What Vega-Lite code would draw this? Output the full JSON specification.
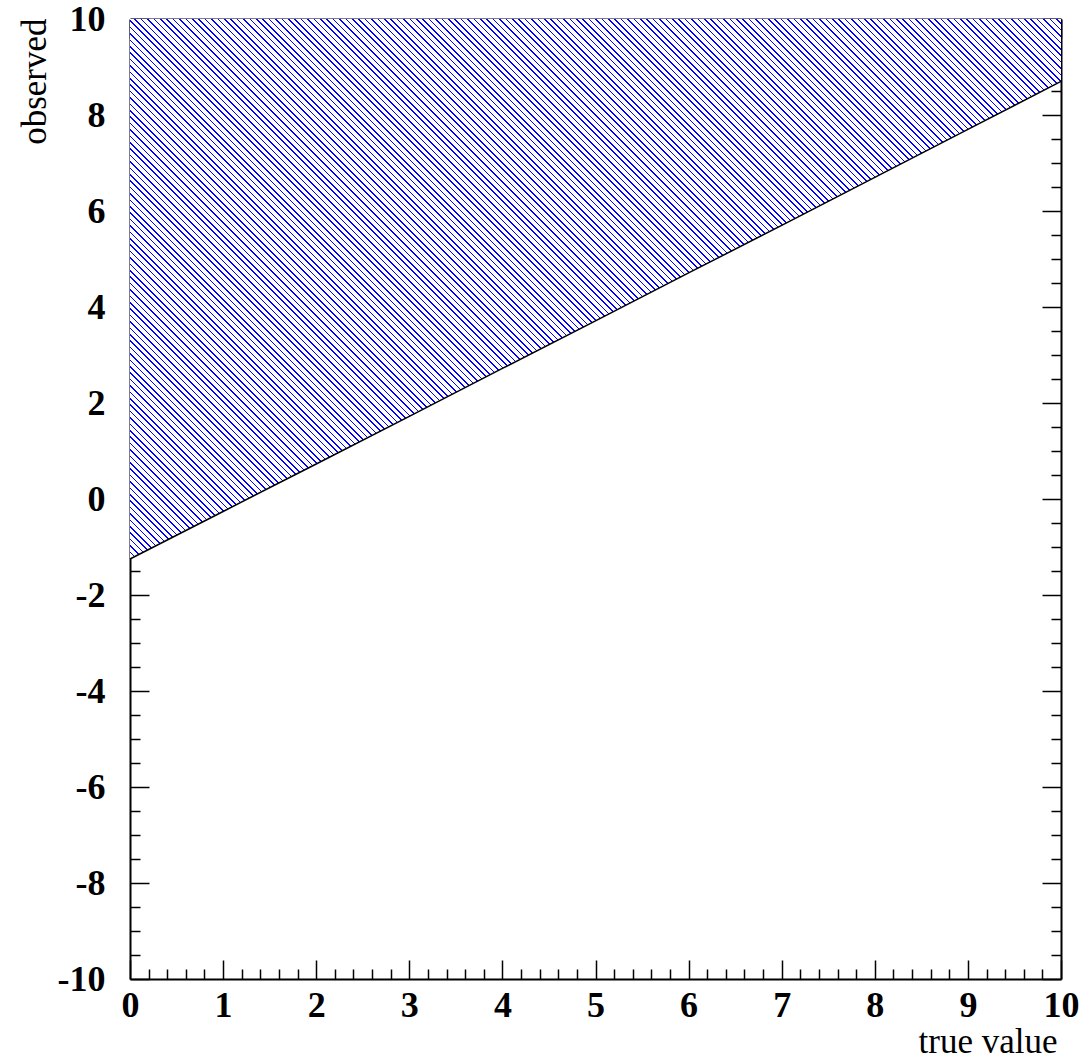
{
"$schema": "https://vega.github.io/schema/vega-lite/v6.json",
"width": 931, "height": 960,
"autosize": {"type": "none"},
"padding": {"left": 130, "top": 19, "right": 30, "bottom": 80},
"background": "white",
"config": {"view": {"stroke": null}, "axis": {"grid": false, "zindex": 1, "tickColor": "#000", "domainColor": "#000", "labelColor": "#000", "titleColor": "#000", "tickWidth": 1.5, "domainWidth": 2}},
"data": {"values": [
{"true_value": 0, "observed": -1.25},
{"true_value": 1, "observed": -0.26},
{"true_value": 2, "observed": 0.73},
{"true_value": 3, "observed": 1.72},
{"true_value": 4, "observed": 2.72},
{"true_value": 5, "observed": 3.71},
{"true_value": 6, "observed": 4.71},
{"true_value": 7, "observed": 5.70},
{"true_value": 8, "observed": 6.70},
{"true_value": 9, "observed": 7.70},
{"true_value": 10, "observed": 8.70}
]},
"layer": [
{"mark": {"type": "area", "stroke": null, "fill": {"gradient": "linear", "x1": 0, "y1": 1, "x2": 1.28595, "y2": 0.25412, "stops": [
{"offset":0,"color":"#00f"},{"offset":0.0009,"color":"#00f"},{"offset":0.0009,"color":"#fff"},{"offset":0.004,"color":"#fff"},{"offset":0.004,"color":"#00f"},{"offset":0.0049,"color":"#00f"},{"offset":0.0049,"color":"#fff"},{"offset":0.008,"color":"#fff"},{"offset":0.008,"color":"#00f"},{"offset":0.0089,"color":"#00f"},{"offset":0.0089,"color":"#fff"},{"offset":0.012,"color":"#fff"},{"offset":0.012,"color":"#00f"},{"offset":0.0129,"color":"#00f"},{"offset":0.0129,"color":"#fff"},{"offset":0.016,"color":"#fff"},{"offset":0.016,"color":"#00f"},{"offset":0.0169,"color":"#00f"},{"offset":0.0169,"color":"#fff"},{"offset":0.02,"color":"#fff"},{"offset":0.02,"color":"#00f"},{"offset":0.0209,"color":"#00f"},{"offset":0.0209,"color":"#fff"},{"offset":0.024,"color":"#fff"},{"offset":0.024,"color":"#00f"},{"offset":0.0249,"color":"#00f"},{"offset":0.0249,"color":"#fff"},{"offset":0.028,"color":"#fff"},{"offset":0.028,"color":"#00f"},{"offset":0.0289,"color":"#00f"},{"offset":0.0289,"color":"#fff"},{"offset":0.032,"color":"#fff"},{"offset":0.032,"color":"#00f"},{"offset":0.0329,"color":"#00f"},{"offset":0.0329,"color":"#fff"},{"offset":0.036,"color":"#fff"},{"offset":0.036,"color":"#00f"},{"offset":0.0369,"color":"#00f"},{"offset":0.0369,"color":"#fff"},{"offset":0.04,"color":"#fff"},{"offset":0.04,"color":"#00f"},{"offset":0.0409,"color":"#00f"},{"offset":0.0409,"color":"#fff"},{"offset":0.044,"color":"#fff"},{"offset":0.044,"color":"#00f"},{"offset":0.0449,"color":"#00f"},{"offset":0.0449,"color":"#fff"},{"offset":0.048,"color":"#fff"},{"offset":0.048,"color":"#00f"},{"offset":0.0489,"color":"#00f"},{"offset":0.0489,"color":"#fff"},{"offset":0.052,"color":"#fff"},{"offset":0.052,"color":"#00f"},{"offset":0.0529,"color":"#00f"},{"offset":0.0529,"color":"#fff"},{"offset":0.056,"color":"#fff"},{"offset":0.056,"color":"#00f"},{"offset":0.0569,"color":"#00f"},{"offset":0.0569,"color":"#fff"},{"offset":0.06,"color":"#fff"},{"offset":0.06,"color":"#00f"},{"offset":0.0609,"color":"#00f"},{"offset":0.0609,"color":"#fff"},{"offset":0.064,"color":"#fff"},{"offset":0.064,"color":"#00f"},{"offset":0.0649,"color":"#00f"},{"offset":0.0649,"color":"#fff"},{"offset":0.068,"color":"#fff"},{"offset":0.068,"color":"#00f"},{"offset":0.0689,"color":"#00f"},{"offset":0.0689,"color":"#fff"},{"offset":0.072,"color":"#fff"},{"offset":0.072,"color":"#00f"},{"offset":0.0729,"color":"#00f"},{"offset":0.0729,"color":"#fff"},{"offset":0.076,"color":"#fff"},{"offset":0.076,"color":"#00f"},{"offset":0.0769,"color":"#00f"},{"offset":0.0769,"color":"#fff"},{"offset":0.08,"color":"#fff"},{"offset":0.08,"color":"#00f"},{"offset":0.0809,"color":"#00f"},{"offset":0.0809,"color":"#fff"},{"offset":0.084,"color":"#fff"},{"offset":0.084,"color":"#00f"},{"offset":0.0849,"color":"#00f"},{"offset":0.0849,"color":"#fff"},{"offset":0.088,"color":"#fff"},{"offset":0.088,"color":"#00f"},{"offset":0.0889,"color":"#00f"},{"offset":0.0889,"color":"#fff"},{"offset":0.092,"color":"#fff"},{"offset":0.092,"color":"#00f"},{"offset":0.0929,"color":"#00f"},{"offset":0.0929,"color":"#fff"},{"offset":0.096,"color":"#fff"},{"offset":0.096,"color":"#00f"},{"offset":0.0969,"color":"#00f"},{"offset":0.0969,"color":"#fff"},{"offset":0.1,"color":"#fff"},
{"offset":0.1,"color":"#00f"},{"offset":0.1009,"color":"#00f"},{"offset":0.1009,"color":"#fff"},{"offset":0.104,"color":"#fff"},{"offset":0.104,"color":"#00f"},{"offset":0.1049,"color":"#00f"},{"offset":0.1049,"color":"#fff"},{"offset":0.108,"color":"#fff"},{"offset":0.108,"color":"#00f"},{"offset":0.1089,"color":"#00f"},{"offset":0.1089,"color":"#fff"},{"offset":0.112,"color":"#fff"},{"offset":0.112,"color":"#00f"},{"offset":0.1129,"color":"#00f"},{"offset":0.1129,"color":"#fff"},{"offset":0.116,"color":"#fff"},{"offset":0.116,"color":"#00f"},{"offset":0.1169,"color":"#00f"},{"offset":0.1169,"color":"#fff"},{"offset":0.12,"color":"#fff"},{"offset":0.12,"color":"#00f"},{"offset":0.1209,"color":"#00f"},{"offset":0.1209,"color":"#fff"},{"offset":0.124,"color":"#fff"},{"offset":0.124,"color":"#00f"},{"offset":0.1249,"color":"#00f"},{"offset":0.1249,"color":"#fff"},{"offset":0.128,"color":"#fff"},{"offset":0.128,"color":"#00f"},{"offset":0.1289,"color":"#00f"},{"offset":0.1289,"color":"#fff"},{"offset":0.132,"color":"#fff"},{"offset":0.132,"color":"#00f"},{"offset":0.1329,"color":"#00f"},{"offset":0.1329,"color":"#fff"},{"offset":0.136,"color":"#fff"},{"offset":0.136,"color":"#00f"},{"offset":0.1369,"color":"#00f"},{"offset":0.1369,"color":"#fff"},{"offset":0.14,"color":"#fff"},{"offset":0.14,"color":"#00f"},{"offset":0.1409,"color":"#00f"},{"offset":0.1409,"color":"#fff"},{"offset":0.144,"color":"#fff"},{"offset":0.144,"color":"#00f"},{"offset":0.1449,"color":"#00f"},{"offset":0.1449,"color":"#fff"},{"offset":0.148,"color":"#fff"},{"offset":0.148,"color":"#00f"},{"offset":0.1489,"color":"#00f"},{"offset":0.1489,"color":"#fff"},{"offset":0.152,"color":"#fff"},{"offset":0.152,"color":"#00f"},{"offset":0.1529,"color":"#00f"},{"offset":0.1529,"color":"#fff"},{"offset":0.156,"color":"#fff"},{"offset":0.156,"color":"#00f"},{"offset":0.1569,"color":"#00f"},{"offset":0.1569,"color":"#fff"},{"offset":0.16,"color":"#fff"},{"offset":0.16,"color":"#00f"},{"offset":0.1609,"color":"#00f"},{"offset":0.1609,"color":"#fff"},{"offset":0.164,"color":"#fff"},{"offset":0.164,"color":"#00f"},{"offset":0.1649,"color":"#00f"},{"offset":0.1649,"color":"#fff"},{"offset":0.168,"color":"#fff"},{"offset":0.168,"color":"#00f"},{"offset":0.1689,"color":"#00f"},{"offset":0.1689,"color":"#fff"},{"offset":0.172,"color":"#fff"},{"offset":0.172,"color":"#00f"},{"offset":0.1729,"color":"#00f"},{"offset":0.1729,"color":"#fff"},{"offset":0.176,"color":"#fff"},{"offset":0.176,"color":"#00f"},{"offset":0.1769,"color":"#00f"},{"offset":0.1769,"color":"#fff"},{"offset":0.18,"color":"#fff"},{"offset":0.18,"color":"#00f"},{"offset":0.1809,"color":"#00f"},{"offset":0.1809,"color":"#fff"},{"offset":0.184,"color":"#fff"},{"offset":0.184,"color":"#00f"},{"offset":0.1849,"color":"#00f"},{"offset":0.1849,"color":"#fff"},{"offset":0.188,"color":"#fff"},{"offset":0.188,"color":"#00f"},{"offset":0.1889,"color":"#00f"},{"offset":0.1889,"color":"#fff"},{"offset":0.192,"color":"#fff"},{"offset":0.192,"color":"#00f"},{"offset":0.1929,"color":"#00f"},{"offset":0.1929,"color":"#fff"},{"offset":0.196,"color":"#fff"},{"offset":0.196,"color":"#00f"},{"offset":0.1969,"color":"#00f"},{"offset":0.1969,"color":"#fff"},{"offset":0.2,"color":"#fff"},
{"offset":0.2,"color":"#00f"},{"offset":0.2009,"color":"#00f"},{"offset":0.2009,"color":"#fff"},{"offset":0.204,"color":"#fff"},{"offset":0.204,"color":"#00f"},{"offset":0.2049,"color":"#00f"},{"offset":0.2049,"color":"#fff"},{"offset":0.208,"color":"#fff"},{"offset":0.208,"color":"#00f"},{"offset":0.2089,"color":"#00f"},{"offset":0.2089,"color":"#fff"},{"offset":0.212,"color":"#fff"},{"offset":0.212,"color":"#00f"},{"offset":0.2129,"color":"#00f"},{"offset":0.2129,"color":"#fff"},{"offset":0.216,"color":"#fff"},{"offset":0.216,"color":"#00f"},{"offset":0.2169,"color":"#00f"},{"offset":0.2169,"color":"#fff"},{"offset":0.22,"color":"#fff"},{"offset":0.22,"color":"#00f"},{"offset":0.2209,"color":"#00f"},{"offset":0.2209,"color":"#fff"},{"offset":0.224,"color":"#fff"},{"offset":0.224,"color":"#00f"},{"offset":0.2249,"color":"#00f"},{"offset":0.2249,"color":"#fff"},{"offset":0.228,"color":"#fff"},{"offset":0.228,"color":"#00f"},{"offset":0.2289,"color":"#00f"},{"offset":0.2289,"color":"#fff"},{"offset":0.232,"color":"#fff"},{"offset":0.232,"color":"#00f"},{"offset":0.2329,"color":"#00f"},{"offset":0.2329,"color":"#fff"},{"offset":0.236,"color":"#fff"},{"offset":0.236,"color":"#00f"},{"offset":0.2369,"color":"#00f"},{"offset":0.2369,"color":"#fff"},{"offset":0.24,"color":"#fff"},{"offset":0.24,"color":"#00f"},{"offset":0.2409,"color":"#00f"},{"offset":0.2409,"color":"#fff"},{"offset":0.244,"color":"#fff"},{"offset":0.244,"color":"#00f"},{"offset":0.2449,"color":"#00f"},{"offset":0.2449,"color":"#fff"},{"offset":0.248,"color":"#fff"},{"offset":0.248,"color":"#00f"},{"offset":0.2489,"color":"#00f"},{"offset":0.2489,"color":"#fff"},{"offset":0.252,"color":"#fff"},{"offset":0.252,"color":"#00f"},{"offset":0.2529,"color":"#00f"},{"offset":0.2529,"color":"#fff"},{"offset":0.256,"color":"#fff"},{"offset":0.256,"color":"#00f"},{"offset":0.2569,"color":"#00f"},{"offset":0.2569,"color":"#fff"},{"offset":0.26,"color":"#fff"},{"offset":0.26,"color":"#00f"},{"offset":0.2609,"color":"#00f"},{"offset":0.2609,"color":"#fff"},{"offset":0.264,"color":"#fff"},{"offset":0.264,"color":"#00f"},{"offset":0.2649,"color":"#00f"},{"offset":0.2649,"color":"#fff"},{"offset":0.268,"color":"#fff"},{"offset":0.268,"color":"#00f"},{"offset":0.2689,"color":"#00f"},{"offset":0.2689,"color":"#fff"},{"offset":0.272,"color":"#fff"},{"offset":0.272,"color":"#00f"},{"offset":0.2729,"color":"#00f"},{"offset":0.2729,"color":"#fff"},{"offset":0.276,"color":"#fff"},{"offset":0.276,"color":"#00f"},{"offset":0.2769,"color":"#00f"},{"offset":0.2769,"color":"#fff"},{"offset":0.28,"color":"#fff"},{"offset":0.28,"color":"#00f"},{"offset":0.2809,"color":"#00f"},{"offset":0.2809,"color":"#fff"},{"offset":0.284,"color":"#fff"},{"offset":0.284,"color":"#00f"},{"offset":0.2849,"color":"#00f"},{"offset":0.2849,"color":"#fff"},{"offset":0.288,"color":"#fff"},{"offset":0.288,"color":"#00f"},{"offset":0.2889,"color":"#00f"},{"offset":0.2889,"color":"#fff"},{"offset":0.292,"color":"#fff"},{"offset":0.292,"color":"#00f"},{"offset":0.2929,"color":"#00f"},{"offset":0.2929,"color":"#fff"},{"offset":0.296,"color":"#fff"},{"offset":0.296,"color":"#00f"},{"offset":0.2969,"color":"#00f"},{"offset":0.2969,"color":"#fff"},{"offset":0.3,"color":"#fff"},
{"offset":0.3,"color":"#00f"},{"offset":0.3009,"color":"#00f"},{"offset":0.3009,"color":"#fff"},{"offset":0.304,"color":"#fff"},{"offset":0.304,"color":"#00f"},{"offset":0.3049,"color":"#00f"},{"offset":0.3049,"color":"#fff"},{"offset":0.308,"color":"#fff"},{"offset":0.308,"color":"#00f"},{"offset":0.3089,"color":"#00f"},{"offset":0.3089,"color":"#fff"},{"offset":0.312,"color":"#fff"},{"offset":0.312,"color":"#00f"},{"offset":0.3129,"color":"#00f"},{"offset":0.3129,"color":"#fff"},{"offset":0.316,"color":"#fff"},{"offset":0.316,"color":"#00f"},{"offset":0.3169,"color":"#00f"},{"offset":0.3169,"color":"#fff"},{"offset":0.32,"color":"#fff"},{"offset":0.32,"color":"#00f"},{"offset":0.3209,"color":"#00f"},{"offset":0.3209,"color":"#fff"},{"offset":0.324,"color":"#fff"},{"offset":0.324,"color":"#00f"},{"offset":0.3249,"color":"#00f"},{"offset":0.3249,"color":"#fff"},{"offset":0.328,"color":"#fff"},{"offset":0.328,"color":"#00f"},{"offset":0.3289,"color":"#00f"},{"offset":0.3289,"color":"#fff"},{"offset":0.332,"color":"#fff"},{"offset":0.332,"color":"#00f"},{"offset":0.3329,"color":"#00f"},{"offset":0.3329,"color":"#fff"},{"offset":0.336,"color":"#fff"},{"offset":0.336,"color":"#00f"},{"offset":0.3369,"color":"#00f"},{"offset":0.3369,"color":"#fff"},{"offset":0.34,"color":"#fff"},{"offset":0.34,"color":"#00f"},{"offset":0.3409,"color":"#00f"},{"offset":0.3409,"color":"#fff"},{"offset":0.344,"color":"#fff"},{"offset":0.344,"color":"#00f"},{"offset":0.3449,"color":"#00f"},{"offset":0.3449,"color":"#fff"},{"offset":0.348,"color":"#fff"},{"offset":0.348,"color":"#00f"},{"offset":0.3489,"color":"#00f"},{"offset":0.3489,"color":"#fff"},{"offset":0.352,"color":"#fff"},{"offset":0.352,"color":"#00f"},{"offset":0.3529,"color":"#00f"},{"offset":0.3529,"color":"#fff"},{"offset":0.356,"color":"#fff"},{"offset":0.356,"color":"#00f"},{"offset":0.3569,"color":"#00f"},{"offset":0.3569,"color":"#fff"},{"offset":0.36,"color":"#fff"},{"offset":0.36,"color":"#00f"},{"offset":0.3609,"color":"#00f"},{"offset":0.3609,"color":"#fff"},{"offset":0.364,"color":"#fff"},{"offset":0.364,"color":"#00f"},{"offset":0.3649,"color":"#00f"},{"offset":0.3649,"color":"#fff"},{"offset":0.368,"color":"#fff"},{"offset":0.368,"color":"#00f"},{"offset":0.3689,"color":"#00f"},{"offset":0.3689,"color":"#fff"},{"offset":0.372,"color":"#fff"},{"offset":0.372,"color":"#00f"},{"offset":0.3729,"color":"#00f"},{"offset":0.3729,"color":"#fff"},{"offset":0.376,"color":"#fff"},{"offset":0.376,"color":"#00f"},{"offset":0.3769,"color":"#00f"},{"offset":0.3769,"color":"#fff"},{"offset":0.38,"color":"#fff"},{"offset":0.38,"color":"#00f"},{"offset":0.3809,"color":"#00f"},{"offset":0.3809,"color":"#fff"},{"offset":0.384,"color":"#fff"},{"offset":0.384,"color":"#00f"},{"offset":0.3849,"color":"#00f"},{"offset":0.3849,"color":"#fff"},{"offset":0.388,"color":"#fff"},{"offset":0.388,"color":"#00f"},{"offset":0.3889,"color":"#00f"},{"offset":0.3889,"color":"#fff"},{"offset":0.392,"color":"#fff"},{"offset":0.392,"color":"#00f"},{"offset":0.3929,"color":"#00f"},{"offset":0.3929,"color":"#fff"},{"offset":0.396,"color":"#fff"},{"offset":0.396,"color":"#00f"},{"offset":0.3969,"color":"#00f"},{"offset":0.3969,"color":"#fff"},{"offset":0.4,"color":"#fff"},
{"offset":0.4,"color":"#00f"},{"offset":0.4009,"color":"#00f"},{"offset":0.4009,"color":"#fff"},{"offset":0.404,"color":"#fff"},{"offset":0.404,"color":"#00f"},{"offset":0.4049,"color":"#00f"},{"offset":0.4049,"color":"#fff"},{"offset":0.408,"color":"#fff"},{"offset":0.408,"color":"#00f"},{"offset":0.4089,"color":"#00f"},{"offset":0.4089,"color":"#fff"},{"offset":0.412,"color":"#fff"},{"offset":0.412,"color":"#00f"},{"offset":0.4129,"color":"#00f"},{"offset":0.4129,"color":"#fff"},{"offset":0.416,"color":"#fff"},{"offset":0.416,"color":"#00f"},{"offset":0.4169,"color":"#00f"},{"offset":0.4169,"color":"#fff"},{"offset":0.42,"color":"#fff"},{"offset":0.42,"color":"#00f"},{"offset":0.4209,"color":"#00f"},{"offset":0.4209,"color":"#fff"},{"offset":0.424,"color":"#fff"},{"offset":0.424,"color":"#00f"},{"offset":0.4249,"color":"#00f"},{"offset":0.4249,"color":"#fff"},{"offset":0.428,"color":"#fff"},{"offset":0.428,"color":"#00f"},{"offset":0.4289,"color":"#00f"},{"offset":0.4289,"color":"#fff"},{"offset":0.432,"color":"#fff"},{"offset":0.432,"color":"#00f"},{"offset":0.4329,"color":"#00f"},{"offset":0.4329,"color":"#fff"},{"offset":0.436,"color":"#fff"},{"offset":0.436,"color":"#00f"},{"offset":0.4369,"color":"#00f"},{"offset":0.4369,"color":"#fff"},{"offset":0.44,"color":"#fff"},{"offset":0.44,"color":"#00f"},{"offset":0.4409,"color":"#00f"},{"offset":0.4409,"color":"#fff"},{"offset":0.444,"color":"#fff"},{"offset":0.444,"color":"#00f"},{"offset":0.4449,"color":"#00f"},{"offset":0.4449,"color":"#fff"},{"offset":0.448,"color":"#fff"},{"offset":0.448,"color":"#00f"},{"offset":0.4489,"color":"#00f"},{"offset":0.4489,"color":"#fff"},{"offset":0.452,"color":"#fff"},{"offset":0.452,"color":"#00f"},{"offset":0.4529,"color":"#00f"},{"offset":0.4529,"color":"#fff"},{"offset":0.456,"color":"#fff"},{"offset":0.456,"color":"#00f"},{"offset":0.4569,"color":"#00f"},{"offset":0.4569,"color":"#fff"},{"offset":0.46,"color":"#fff"},{"offset":0.46,"color":"#00f"},{"offset":0.4609,"color":"#00f"},{"offset":0.4609,"color":"#fff"},{"offset":0.464,"color":"#fff"},{"offset":0.464,"color":"#00f"},{"offset":0.4649,"color":"#00f"},{"offset":0.4649,"color":"#fff"},{"offset":0.468,"color":"#fff"},{"offset":0.468,"color":"#00f"},{"offset":0.4689,"color":"#00f"},{"offset":0.4689,"color":"#fff"},{"offset":0.472,"color":"#fff"},{"offset":0.472,"color":"#00f"},{"offset":0.4729,"color":"#00f"},{"offset":0.4729,"color":"#fff"},{"offset":0.476,"color":"#fff"},{"offset":0.476,"color":"#00f"},{"offset":0.4769,"color":"#00f"},{"offset":0.4769,"color":"#fff"},{"offset":0.48,"color":"#fff"},{"offset":0.48,"color":"#00f"},{"offset":0.4809,"color":"#00f"},{"offset":0.4809,"color":"#fff"},{"offset":0.484,"color":"#fff"},{"offset":0.484,"color":"#00f"},{"offset":0.4849,"color":"#00f"},{"offset":0.4849,"color":"#fff"},{"offset":0.488,"color":"#fff"},{"offset":0.488,"color":"#00f"},{"offset":0.4889,"color":"#00f"},{"offset":0.4889,"color":"#fff"},{"offset":0.492,"color":"#fff"},{"offset":0.492,"color":"#00f"},{"offset":0.4929,"color":"#00f"},{"offset":0.4929,"color":"#fff"},{"offset":0.496,"color":"#fff"},{"offset":0.496,"color":"#00f"},{"offset":0.4969,"color":"#00f"},{"offset":0.4969,"color":"#fff"},{"offset":0.5,"color":"#fff"},
{"offset":0.5,"color":"#00f"},{"offset":0.5009,"color":"#00f"},{"offset":0.5009,"color":"#fff"},{"offset":0.504,"color":"#fff"},{"offset":0.504,"color":"#00f"},{"offset":0.5049,"color":"#00f"},{"offset":0.5049,"color":"#fff"},{"offset":0.508,"color":"#fff"},{"offset":0.508,"color":"#00f"},{"offset":0.5089,"color":"#00f"},{"offset":0.5089,"color":"#fff"},{"offset":0.512,"color":"#fff"},{"offset":0.512,"color":"#00f"},{"offset":0.5129,"color":"#00f"},{"offset":0.5129,"color":"#fff"},{"offset":0.516,"color":"#fff"},{"offset":0.516,"color":"#00f"},{"offset":0.5169,"color":"#00f"},{"offset":0.5169,"color":"#fff"},{"offset":0.52,"color":"#fff"},{"offset":0.52,"color":"#00f"},{"offset":0.5209,"color":"#00f"},{"offset":0.5209,"color":"#fff"},{"offset":0.524,"color":"#fff"},{"offset":0.524,"color":"#00f"},{"offset":0.5249,"color":"#00f"},{"offset":0.5249,"color":"#fff"},{"offset":0.528,"color":"#fff"},{"offset":0.528,"color":"#00f"},{"offset":0.5289,"color":"#00f"},{"offset":0.5289,"color":"#fff"},{"offset":0.532,"color":"#fff"},{"offset":0.532,"color":"#00f"},{"offset":0.5329,"color":"#00f"},{"offset":0.5329,"color":"#fff"},{"offset":0.536,"color":"#fff"},{"offset":0.536,"color":"#00f"},{"offset":0.5369,"color":"#00f"},{"offset":0.5369,"color":"#fff"},{"offset":0.54,"color":"#fff"},{"offset":0.54,"color":"#00f"},{"offset":0.5409,"color":"#00f"},{"offset":0.5409,"color":"#fff"},{"offset":0.544,"color":"#fff"},{"offset":0.544,"color":"#00f"},{"offset":0.5449,"color":"#00f"},{"offset":0.5449,"color":"#fff"},{"offset":0.548,"color":"#fff"},{"offset":0.548,"color":"#00f"},{"offset":0.5489,"color":"#00f"},{"offset":0.5489,"color":"#fff"},{"offset":0.552,"color":"#fff"},{"offset":0.552,"color":"#00f"},{"offset":0.5529,"color":"#00f"},{"offset":0.5529,"color":"#fff"},{"offset":0.556,"color":"#fff"},{"offset":0.556,"color":"#00f"},{"offset":0.5569,"color":"#00f"},{"offset":0.5569,"color":"#fff"},{"offset":0.56,"color":"#fff"},{"offset":0.56,"color":"#00f"},{"offset":0.5609,"color":"#00f"},{"offset":0.5609,"color":"#fff"},{"offset":0.564,"color":"#fff"},{"offset":0.564,"color":"#00f"},{"offset":0.5649,"color":"#00f"},{"offset":0.5649,"color":"#fff"},{"offset":0.568,"color":"#fff"},{"offset":0.568,"color":"#00f"},{"offset":0.5689,"color":"#00f"},{"offset":0.5689,"color":"#fff"},{"offset":0.572,"color":"#fff"},{"offset":0.572,"color":"#00f"},{"offset":0.5729,"color":"#00f"},{"offset":0.5729,"color":"#fff"},{"offset":0.576,"color":"#fff"},{"offset":0.576,"color":"#00f"},{"offset":0.5769,"color":"#00f"},{"offset":0.5769,"color":"#fff"},{"offset":0.58,"color":"#fff"},{"offset":0.58,"color":"#00f"},{"offset":0.5809,"color":"#00f"},{"offset":0.5809,"color":"#fff"},{"offset":0.584,"color":"#fff"},{"offset":0.584,"color":"#00f"},{"offset":0.5849,"color":"#00f"},{"offset":0.5849,"color":"#fff"},{"offset":0.588,"color":"#fff"},{"offset":0.588,"color":"#00f"},{"offset":0.5889,"color":"#00f"},{"offset":0.5889,"color":"#fff"},{"offset":0.592,"color":"#fff"},{"offset":0.592,"color":"#00f"},{"offset":0.5929,"color":"#00f"},{"offset":0.5929,"color":"#fff"},{"offset":0.596,"color":"#fff"},{"offset":0.596,"color":"#00f"},{"offset":0.5969,"color":"#00f"},{"offset":0.5969,"color":"#fff"},{"offset":0.6,"color":"#fff"},
{"offset":0.6,"color":"#00f"},{"offset":0.6009,"color":"#00f"},{"offset":0.6009,"color":"#fff"},{"offset":0.604,"color":"#fff"},{"offset":0.604,"color":"#00f"},{"offset":0.6049,"color":"#00f"},{"offset":0.6049,"color":"#fff"},{"offset":0.608,"color":"#fff"},{"offset":0.608,"color":"#00f"},{"offset":0.6089,"color":"#00f"},{"offset":0.6089,"color":"#fff"},{"offset":0.612,"color":"#fff"},{"offset":0.612,"color":"#00f"},{"offset":0.6129,"color":"#00f"},{"offset":0.6129,"color":"#fff"},{"offset":0.616,"color":"#fff"},{"offset":0.616,"color":"#00f"},{"offset":0.6169,"color":"#00f"},{"offset":0.6169,"color":"#fff"},{"offset":0.62,"color":"#fff"},{"offset":0.62,"color":"#00f"},{"offset":0.6209,"color":"#00f"},{"offset":0.6209,"color":"#fff"},{"offset":0.624,"color":"#fff"},{"offset":0.624,"color":"#00f"},{"offset":0.6249,"color":"#00f"},{"offset":0.6249,"color":"#fff"},{"offset":0.628,"color":"#fff"},{"offset":0.628,"color":"#00f"},{"offset":0.6289,"color":"#00f"},{"offset":0.6289,"color":"#fff"},{"offset":0.632,"color":"#fff"},{"offset":0.632,"color":"#00f"},{"offset":0.6329,"color":"#00f"},{"offset":0.6329,"color":"#fff"},{"offset":0.636,"color":"#fff"},{"offset":0.636,"color":"#00f"},{"offset":0.6369,"color":"#00f"},{"offset":0.6369,"color":"#fff"},{"offset":0.64,"color":"#fff"},{"offset":0.64,"color":"#00f"},{"offset":0.6409,"color":"#00f"},{"offset":0.6409,"color":"#fff"},{"offset":0.644,"color":"#fff"},{"offset":0.644,"color":"#00f"},{"offset":0.6449,"color":"#00f"},{"offset":0.6449,"color":"#fff"},{"offset":0.648,"color":"#fff"},{"offset":0.648,"color":"#00f"},{"offset":0.6489,"color":"#00f"},{"offset":0.6489,"color":"#fff"},{"offset":0.652,"color":"#fff"},{"offset":0.652,"color":"#00f"},{"offset":0.6529,"color":"#00f"},{"offset":0.6529,"color":"#fff"},{"offset":0.656,"color":"#fff"},{"offset":0.656,"color":"#00f"},{"offset":0.6569,"color":"#00f"},{"offset":0.6569,"color":"#fff"},{"offset":0.66,"color":"#fff"},{"offset":0.66,"color":"#00f"},{"offset":0.6609,"color":"#00f"},{"offset":0.6609,"color":"#fff"},{"offset":0.664,"color":"#fff"},{"offset":0.664,"color":"#00f"},{"offset":0.6649,"color":"#00f"},{"offset":0.6649,"color":"#fff"},{"offset":0.668,"color":"#fff"},{"offset":0.668,"color":"#00f"},{"offset":0.6689,"color":"#00f"},{"offset":0.6689,"color":"#fff"},{"offset":0.672,"color":"#fff"},{"offset":0.672,"color":"#00f"},{"offset":0.6729,"color":"#00f"},{"offset":0.6729,"color":"#fff"},{"offset":0.676,"color":"#fff"},{"offset":0.676,"color":"#00f"},{"offset":0.6769,"color":"#00f"},{"offset":0.6769,"color":"#fff"},{"offset":0.68,"color":"#fff"},{"offset":0.68,"color":"#00f"},{"offset":0.6809,"color":"#00f"},{"offset":0.6809,"color":"#fff"},{"offset":0.684,"color":"#fff"},{"offset":0.684,"color":"#00f"},{"offset":0.6849,"color":"#00f"},{"offset":0.6849,"color":"#fff"},{"offset":0.688,"color":"#fff"},{"offset":0.688,"color":"#00f"},{"offset":0.6889,"color":"#00f"},{"offset":0.6889,"color":"#fff"},{"offset":0.692,"color":"#fff"},{"offset":0.692,"color":"#00f"},{"offset":0.6929,"color":"#00f"},{"offset":0.6929,"color":"#fff"},{"offset":0.696,"color":"#fff"},{"offset":0.696,"color":"#00f"},{"offset":0.6969,"color":"#00f"},{"offset":0.6969,"color":"#fff"},{"offset":0.7,"color":"#fff"},
{"offset":0.7,"color":"#00f"},{"offset":0.7009,"color":"#00f"},{"offset":0.7009,"color":"#fff"},{"offset":0.704,"color":"#fff"},{"offset":0.704,"color":"#00f"},{"offset":0.7049,"color":"#00f"},{"offset":0.7049,"color":"#fff"},{"offset":0.708,"color":"#fff"},{"offset":0.708,"color":"#00f"},{"offset":0.7089,"color":"#00f"},{"offset":0.7089,"color":"#fff"},{"offset":0.712,"color":"#fff"},{"offset":0.712,"color":"#00f"},{"offset":0.7129,"color":"#00f"},{"offset":0.7129,"color":"#fff"},{"offset":0.716,"color":"#fff"},{"offset":0.716,"color":"#00f"},{"offset":0.7169,"color":"#00f"},{"offset":0.7169,"color":"#fff"},{"offset":0.72,"color":"#fff"},{"offset":0.72,"color":"#00f"},{"offset":0.7209,"color":"#00f"},{"offset":0.7209,"color":"#fff"},{"offset":0.724,"color":"#fff"},{"offset":0.724,"color":"#00f"},{"offset":0.7249,"color":"#00f"},{"offset":0.7249,"color":"#fff"},{"offset":0.728,"color":"#fff"},{"offset":0.728,"color":"#00f"},{"offset":0.7289,"color":"#00f"},{"offset":0.7289,"color":"#fff"},{"offset":0.732,"color":"#fff"},{"offset":0.732,"color":"#00f"},{"offset":0.7329,"color":"#00f"},{"offset":0.7329,"color":"#fff"},{"offset":0.736,"color":"#fff"},{"offset":0.736,"color":"#00f"},{"offset":0.7369,"color":"#00f"},{"offset":0.7369,"color":"#fff"},{"offset":0.74,"color":"#fff"},{"offset":0.74,"color":"#00f"},{"offset":0.7409,"color":"#00f"},{"offset":0.7409,"color":"#fff"},{"offset":0.744,"color":"#fff"},{"offset":0.744,"color":"#00f"},{"offset":0.7449,"color":"#00f"},{"offset":0.7449,"color":"#fff"},{"offset":0.748,"color":"#fff"},{"offset":0.748,"color":"#00f"},{"offset":0.7489,"color":"#00f"},{"offset":0.7489,"color":"#fff"},{"offset":0.752,"color":"#fff"},{"offset":0.752,"color":"#00f"},{"offset":0.7529,"color":"#00f"},{"offset":0.7529,"color":"#fff"},{"offset":0.756,"color":"#fff"},{"offset":0.756,"color":"#00f"},{"offset":0.7569,"color":"#00f"},{"offset":0.7569,"color":"#fff"},{"offset":0.76,"color":"#fff"},{"offset":0.76,"color":"#00f"},{"offset":0.7609,"color":"#00f"},{"offset":0.7609,"color":"#fff"},{"offset":0.764,"color":"#fff"},{"offset":0.764,"color":"#00f"},{"offset":0.7649,"color":"#00f"},{"offset":0.7649,"color":"#fff"},{"offset":0.768,"color":"#fff"},{"offset":0.768,"color":"#00f"},{"offset":0.7689,"color":"#00f"},{"offset":0.7689,"color":"#fff"},{"offset":0.772,"color":"#fff"},{"offset":0.772,"color":"#00f"},{"offset":0.7729,"color":"#00f"},{"offset":0.7729,"color":"#fff"},{"offset":0.776,"color":"#fff"},{"offset":0.776,"color":"#00f"},{"offset":0.7769,"color":"#00f"},{"offset":0.7769,"color":"#fff"},{"offset":0.78,"color":"#fff"},{"offset":0.78,"color":"#00f"},{"offset":0.7809,"color":"#00f"},{"offset":0.7809,"color":"#fff"},{"offset":0.784,"color":"#fff"},{"offset":0.784,"color":"#00f"},{"offset":0.7849,"color":"#00f"},{"offset":0.7849,"color":"#fff"},{"offset":0.788,"color":"#fff"},{"offset":0.788,"color":"#00f"},{"offset":0.7889,"color":"#00f"},{"offset":0.7889,"color":"#fff"},{"offset":0.792,"color":"#fff"},{"offset":0.792,"color":"#00f"},{"offset":0.7929,"color":"#00f"},{"offset":0.7929,"color":"#fff"},{"offset":0.796,"color":"#fff"},{"offset":0.796,"color":"#00f"},{"offset":0.7969,"color":"#00f"},{"offset":0.7969,"color":"#fff"},{"offset":0.8,"color":"#fff"},
{"offset":0.8,"color":"#00f"},{"offset":0.8009,"color":"#00f"},{"offset":0.8009,"color":"#fff"},{"offset":0.804,"color":"#fff"},{"offset":0.804,"color":"#00f"},{"offset":0.8049,"color":"#00f"},{"offset":0.8049,"color":"#fff"},{"offset":0.808,"color":"#fff"},{"offset":0.808,"color":"#00f"},{"offset":0.8089,"color":"#00f"},{"offset":0.8089,"color":"#fff"},{"offset":0.812,"color":"#fff"},{"offset":0.812,"color":"#00f"},{"offset":0.8129,"color":"#00f"},{"offset":0.8129,"color":"#fff"},{"offset":0.816,"color":"#fff"},{"offset":0.816,"color":"#00f"},{"offset":0.8169,"color":"#00f"},{"offset":0.8169,"color":"#fff"},{"offset":0.82,"color":"#fff"},{"offset":0.82,"color":"#00f"},{"offset":0.8209,"color":"#00f"},{"offset":0.8209,"color":"#fff"},{"offset":0.824,"color":"#fff"},{"offset":0.824,"color":"#00f"},{"offset":0.8249,"color":"#00f"},{"offset":0.8249,"color":"#fff"},{"offset":0.828,"color":"#fff"},{"offset":0.828,"color":"#00f"},{"offset":0.8289,"color":"#00f"},{"offset":0.8289,"color":"#fff"},{"offset":0.832,"color":"#fff"},{"offset":0.832,"color":"#00f"},{"offset":0.8329,"color":"#00f"},{"offset":0.8329,"color":"#fff"},{"offset":0.836,"color":"#fff"},{"offset":0.836,"color":"#00f"},{"offset":0.8369,"color":"#00f"},{"offset":0.8369,"color":"#fff"},{"offset":0.84,"color":"#fff"},{"offset":0.84,"color":"#00f"},{"offset":0.8409,"color":"#00f"},{"offset":0.8409,"color":"#fff"},{"offset":0.844,"color":"#fff"},{"offset":0.844,"color":"#00f"},{"offset":0.8449,"color":"#00f"},{"offset":0.8449,"color":"#fff"},{"offset":0.848,"color":"#fff"},{"offset":0.848,"color":"#00f"},{"offset":0.8489,"color":"#00f"},{"offset":0.8489,"color":"#fff"},{"offset":0.852,"color":"#fff"},{"offset":0.852,"color":"#00f"},{"offset":0.8529,"color":"#00f"},{"offset":0.8529,"color":"#fff"},{"offset":0.856,"color":"#fff"},{"offset":0.856,"color":"#00f"},{"offset":0.8569,"color":"#00f"},{"offset":0.8569,"color":"#fff"},{"offset":0.86,"color":"#fff"},{"offset":0.86,"color":"#00f"},{"offset":0.8609,"color":"#00f"},{"offset":0.8609,"color":"#fff"},{"offset":0.864,"color":"#fff"},{"offset":0.864,"color":"#00f"},{"offset":0.8649,"color":"#00f"},{"offset":0.8649,"color":"#fff"},{"offset":0.868,"color":"#fff"},{"offset":0.868,"color":"#00f"},{"offset":0.8689,"color":"#00f"},{"offset":0.8689,"color":"#fff"},{"offset":0.872,"color":"#fff"},{"offset":0.872,"color":"#00f"},{"offset":0.8729,"color":"#00f"},{"offset":0.8729,"color":"#fff"},{"offset":0.876,"color":"#fff"},{"offset":0.876,"color":"#00f"},{"offset":0.8769,"color":"#00f"},{"offset":0.8769,"color":"#fff"},{"offset":0.88,"color":"#fff"},{"offset":0.88,"color":"#00f"},{"offset":0.8809,"color":"#00f"},{"offset":0.8809,"color":"#fff"},{"offset":0.884,"color":"#fff"},{"offset":0.884,"color":"#00f"},{"offset":0.8849,"color":"#00f"},{"offset":0.8849,"color":"#fff"},{"offset":0.888,"color":"#fff"},{"offset":0.888,"color":"#00f"},{"offset":0.8889,"color":"#00f"},{"offset":0.8889,"color":"#fff"},{"offset":0.892,"color":"#fff"},{"offset":0.892,"color":"#00f"},{"offset":0.8929,"color":"#00f"},{"offset":0.8929,"color":"#fff"},{"offset":0.896,"color":"#fff"},{"offset":0.896,"color":"#00f"},{"offset":0.8969,"color":"#00f"},{"offset":0.8969,"color":"#fff"},{"offset":0.9,"color":"#fff"},
{"offset":0.9,"color":"#00f"},{"offset":0.9009,"color":"#00f"},{"offset":0.9009,"color":"#fff"},{"offset":0.904,"color":"#fff"},{"offset":0.904,"color":"#00f"},{"offset":0.9049,"color":"#00f"},{"offset":0.9049,"color":"#fff"},{"offset":0.908,"color":"#fff"},{"offset":0.908,"color":"#00f"},{"offset":0.9089,"color":"#00f"},{"offset":0.9089,"color":"#fff"},{"offset":0.912,"color":"#fff"},{"offset":0.912,"color":"#00f"},{"offset":0.9129,"color":"#00f"},{"offset":0.9129,"color":"#fff"},{"offset":0.916,"color":"#fff"},{"offset":0.916,"color":"#00f"},{"offset":0.9169,"color":"#00f"},{"offset":0.9169,"color":"#fff"},{"offset":0.92,"color":"#fff"},{"offset":0.92,"color":"#00f"},{"offset":0.9209,"color":"#00f"},{"offset":0.9209,"color":"#fff"},{"offset":0.924,"color":"#fff"},{"offset":0.924,"color":"#00f"},{"offset":0.9249,"color":"#00f"},{"offset":0.9249,"color":"#fff"},{"offset":0.928,"color":"#fff"},{"offset":0.928,"color":"#00f"},{"offset":0.9289,"color":"#00f"},{"offset":0.9289,"color":"#fff"},{"offset":0.932,"color":"#fff"},{"offset":0.932,"color":"#00f"},{"offset":0.9329,"color":"#00f"},{"offset":0.9329,"color":"#fff"},{"offset":0.936,"color":"#fff"},{"offset":0.936,"color":"#00f"},{"offset":0.9369,"color":"#00f"},{"offset":0.9369,"color":"#fff"},{"offset":0.94,"color":"#fff"},{"offset":0.94,"color":"#00f"},{"offset":0.9409,"color":"#00f"},{"offset":0.9409,"color":"#fff"},{"offset":0.944,"color":"#fff"},{"offset":0.944,"color":"#00f"},{"offset":0.9449,"color":"#00f"},{"offset":0.9449,"color":"#fff"},{"offset":0.948,"color":"#fff"},{"offset":0.948,"color":"#00f"},{"offset":0.9489,"color":"#00f"},{"offset":0.9489,"color":"#fff"},{"offset":0.952,"color":"#fff"},{"offset":0.952,"color":"#00f"},{"offset":0.9529,"color":"#00f"},{"offset":0.9529,"color":"#fff"},{"offset":0.956,"color":"#fff"},{"offset":0.956,"color":"#00f"},{"offset":0.9569,"color":"#00f"},{"offset":0.9569,"color":"#fff"},{"offset":0.96,"color":"#fff"},{"offset":0.96,"color":"#00f"},{"offset":0.9609,"color":"#00f"},{"offset":0.9609,"color":"#fff"},{"offset":0.964,"color":"#fff"},{"offset":0.964,"color":"#00f"},{"offset":0.9649,"color":"#00f"},{"offset":0.9649,"color":"#fff"},{"offset":0.968,"color":"#fff"},{"offset":0.968,"color":"#00f"},{"offset":0.9689,"color":"#00f"},{"offset":0.9689,"color":"#fff"},{"offset":0.972,"color":"#fff"},{"offset":0.972,"color":"#00f"},{"offset":0.9729,"color":"#00f"},{"offset":0.9729,"color":"#fff"},{"offset":0.976,"color":"#fff"},{"offset":0.976,"color":"#00f"},{"offset":0.9769,"color":"#00f"},{"offset":0.9769,"color":"#fff"},{"offset":0.98,"color":"#fff"},{"offset":0.98,"color":"#00f"},{"offset":0.9809,"color":"#00f"},{"offset":0.9809,"color":"#fff"},{"offset":0.984,"color":"#fff"},{"offset":0.984,"color":"#00f"},{"offset":0.9849,"color":"#00f"},{"offset":0.9849,"color":"#fff"},{"offset":0.988,"color":"#fff"},{"offset":0.988,"color":"#00f"},{"offset":0.9889,"color":"#00f"},{"offset":0.9889,"color":"#fff"},{"offset":0.992,"color":"#fff"},{"offset":0.992,"color":"#00f"},{"offset":0.9929,"color":"#00f"},{"offset":0.9929,"color":"#fff"},{"offset":0.996,"color":"#fff"},{"offset":0.996,"color":"#00f"},{"offset":0.9969,"color":"#00f"},{"offset":0.9969,"color":"#fff"},{"offset":1,"color":"#fff"}
]}},
 "encoding": {
  "x": {"field": "true_value", "type": "quantitative", "scale": {"domain": [0, 10], "nice": false, "zero": false},
        "axis": {"orient": "bottom", "values": [0,1,2,3,4,5,6,7,8,9,10], "tickSize": -19, "domain": true,
                 "labelFont": "Liberation Serif", "labelFontWeight": "bold", "labelFontSize": 36, "labelPadding": 28,
                 "labelFlush": false, "labelOverlap": false, "labelBound": false, "labelAlign": "center",
                 "labelExpr": "datum.value < 0 ? '-' + format(-datum.value, 'd') : format(datum.value, 'd')",
                 "title": "true value", "titleFont": "Liberation Serif", "titleFontSize": 35, "titleFontWeight": "normal",
                 "titleAnchor": "end", "titleAlign": "right", "titleX": 927, "titleY": 73, "titleBaseline": "alphabetic"}},
  "y": {"field": "observed", "type": "quantitative", "scale": {"domain": [-10, 10], "nice": false, "zero": false},
        "axis": {"orient": "left", "values": [-10,-8,-6,-4,-2,0,2,4,6,8,10], "tickSize": -19, "domain": true,
                 "labelFont": "Liberation Serif", "labelFontWeight": "bold", "labelFontSize": 36, "labelPadding": 44,
                 "labelOverlap": false, "labelBound": false, "labelFlush": false, "labelAlign": "right", "labelBaseline": "middle",
                 "labelExpr": "datum.value < 0 ? '-' + format(-datum.value, 'd') : format(datum.value, 'd')",
                 "title": "observed", "titleFont": "Liberation Serif", "titleFontSize": 35, "titleFontWeight": "normal",
                 "titleAngle": -90, "titleAnchor": "end", "titleAlign": "right", "titleX": -85, "titleY": -1, "titleBaseline": "alphabetic"}},
  "y2": {"datum": 10}
 }},
{"mark": {"type": "line", "color": "#000", "strokeWidth": 1.5},
 "encoding": {
  "x": {"field": "true_value", "type": "quantitative",
        "axis": {"orient": "bottom", "values": [0.2,0.4,0.6,0.8,1.2,1.4,1.6,1.8,2.2,2.4,2.6,2.8,3.2,3.4,3.6,3.8,4.2,4.4,4.6,4.8,5.2,5.4,5.6,5.8,6.2,6.4,6.6,6.8,7.2,7.4,7.6,7.8,8.2,8.4,8.6,8.8,9.2,9.4,9.6,9.8], "tickSize": -10, "labels": false, "domain": false, "title": null}},
  "y": {"field": "observed", "type": "quantitative",
        "axis": {"orient": "left", "values": [-9.5,-9,-8.5,-7.5,-7,-6.5,-5.5,-5,-4.5,-3.5,-3,-2.5,-1.5,-1,-0.5,0.5,1,1.5,2.5,3,3.5,4.5,5,5.5,6.5,7,7.5,8.5,9,9.5], "tickSize": -10, "labels": false, "domain": false, "title": null}}
 }},
{"mark": {"type": "line", "opacity": 0},
 "encoding": {
  "x": {"field": "true_value", "type": "quantitative",
        "axis": {"orient": "top", "values": [0,1,2,3,4,5,6,7,8,9,10], "tickSize": -19, "labels": false, "domain": true, "title": null}},
  "y": {"field": "observed", "type": "quantitative",
        "axis": {"orient": "right", "values": [-10,-8,-6,-4,-2,0,2,4,6,8,10], "tickSize": -19, "labels": false, "domain": true, "title": null}}
 }},
{"mark": {"type": "line", "opacity": 0},
 "encoding": {
  "x": {"field": "true_value", "type": "quantitative",
        "axis": {"orient": "top", "values": [0.2,0.4,0.6,0.8,1.2,1.4,1.6,1.8,2.2,2.4,2.6,2.8,3.2,3.4,3.6,3.8,4.2,4.4,4.6,4.8,5.2,5.4,5.6,5.8,6.2,6.4,6.6,6.8,7.2,7.4,7.6,7.8,8.2,8.4,8.6,8.8,9.2,9.4,9.6,9.8], "tickSize": -10, "labels": false, "domain": false, "title": null}},
  "y": {"field": "observed", "type": "quantitative",
        "axis": {"orient": "right", "values": [-9.5,-9,-8.5,-7.5,-7,-6.5,-5.5,-5,-4.5,-3.5,-3,-2.5,-1.5,-1,-0.5,0.5,1,1.5,2.5,3,3.5,4.5,5,5.5,6.5,7,7.5,8.5,9,9.5], "tickSize": -10, "labels": false, "domain": false, "title": null}}
 }}
],
"resolve": {"axis": {"x": "independent", "y": "independent"}}
}
